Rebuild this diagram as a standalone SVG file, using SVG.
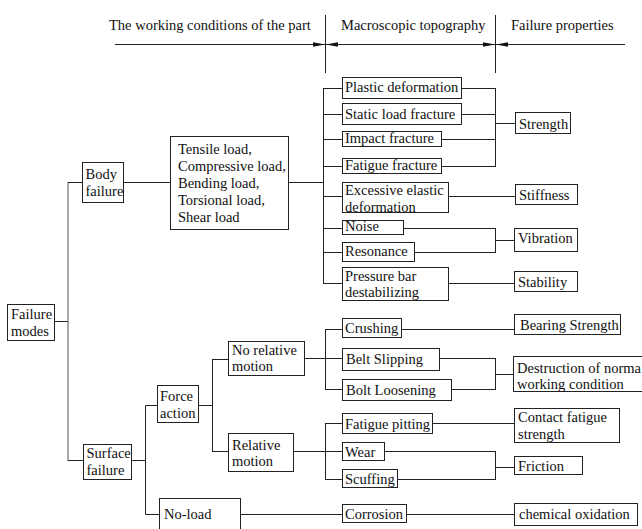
<svg xmlns="http://www.w3.org/2000/svg" width="642" height="529" viewBox="0 0 642 529" font-family="'Liberation Serif', 'DejaVu Serif', serif">
<style>
text{font-family:'Liberation Serif','DejaVu Serif',serif;font-size:14.5px;fill:#111}
.b{fill:#fff;stroke:#222;stroke-width:1}
.c line,.h line{stroke:#222;stroke-width:1}
.c line.g{stroke:#555}
</style>
<defs>
<marker id="ar" viewBox="0 0 12 6" refX="12" refY="3" markerWidth="12" markerHeight="6" markerUnits="userSpaceOnUse" orient="auto">
<path d="M0,0.8 L12,3 L0,5.2 Z" fill="#111"/>
</marker>
</defs>
<g id="header" class="h">
<text x="109" y="30">The working conditions of the part</text>
<text x="341" y="30">Macroscopic topography</text>
<text x="511" y="30">Failure properties</text>
<line x1="115" y1="44.5" x2="625" y2="44.5"/>
<line x1="325.5" y1="15" x2="325.5" y2="73"/>
<line x1="495.5" y1="15" x2="495.5" y2="73"/>
<line x1="305" y1="44.5" x2="325" y2="44.5" marker-end="url(#ar)"/>
<line x1="346" y1="44.5" x2="326" y2="44.5" marker-end="url(#ar)"/>
<line x1="475" y1="44.5" x2="495" y2="44.5" marker-end="url(#ar)"/>
<line x1="516" y1="44.5" x2="496" y2="44.5" marker-end="url(#ar)"/>
</g>
<g id="connectors" class="c">
<line x1="55" y1="321.5" x2="68" y2="321.5"/>
<line class="g" x1="68" y1="182" x2="68" y2="461"/>
<line x1="68" y1="182.5" x2="82" y2="182.5"/>
<line x1="68" y1="460.5" x2="83" y2="460.5"/>
<line x1="124" y1="182.5" x2="170" y2="182.5"/>
<line x1="289" y1="182.5" x2="323.5" y2="182.5"/>
<line x1="323.5" y1="88" x2="323.5" y2="284"/>
<line x1="323.5" y1="88.5" x2="342" y2="88.5"/>
<line x1="323.5" y1="114.5" x2="342" y2="114.5"/>
<line x1="323.5" y1="139.5" x2="342" y2="139.5"/>
<line x1="323.5" y1="166.5" x2="342" y2="166.5"/>
<line x1="323.5" y1="196.5" x2="342" y2="196.5"/>
<line x1="323.5" y1="228.5" x2="342" y2="228.5"/>
<line x1="323.5" y1="252.5" x2="342" y2="252.5"/>
<line x1="323.5" y1="283.5" x2="342" y2="283.5"/>
<line x1="462" y1="88.5" x2="495.5" y2="88.5"/>
<line x1="462" y1="114.5" x2="495.5" y2="114.5"/>
<line x1="442" y1="139.5" x2="495.5" y2="139.5"/>
<line x1="442" y1="166.5" x2="495.5" y2="166.5"/>
<line x1="495.5" y1="88" x2="495.5" y2="167"/>
<line x1="495.5" y1="123.5" x2="515" y2="123.5"/>
<line x1="449" y1="196.5" x2="515" y2="196.5"/>
<line x1="404" y1="228.5" x2="495.5" y2="228.5"/>
<line x1="415" y1="252.5" x2="495.5" y2="252.5"/>
<line x1="495.5" y1="228" x2="495.5" y2="253"/>
<line x1="495.5" y1="240.5" x2="514" y2="240.5"/>
<line x1="449" y1="283.5" x2="514" y2="283.5"/>
<line x1="132" y1="460.5" x2="145.5" y2="460.5"/>
<line x1="145.5" y1="405.5" x2="145.5" y2="514.5"/>
<line x1="145.5" y1="405.5" x2="157" y2="405.5"/>
<line x1="145.5" y1="514.5" x2="159" y2="514.5"/>
<line x1="199" y1="405.5" x2="212.5" y2="405.5"/>
<line x1="212.5" y1="359" x2="212.5" y2="452"/>
<line x1="212.5" y1="359.5" x2="228" y2="359.5"/>
<line x1="212.5" y1="451.5" x2="228" y2="451.5"/>
<line x1="305" y1="358.5" x2="342" y2="358.5"/>
<line x1="325.5" y1="329" x2="325.5" y2="390"/>
<line x1="325.5" y1="329.5" x2="342" y2="329.5"/>
<line x1="325.5" y1="389.5" x2="342" y2="389.5"/>
<line x1="402" y1="329.5" x2="514" y2="329.5"/>
<line x1="440" y1="358.5" x2="495.5" y2="358.5"/>
<line x1="452" y1="389.5" x2="495.5" y2="389.5"/>
<line x1="495.5" y1="358" x2="495.5" y2="390"/>
<line x1="495.5" y1="374.5" x2="513" y2="374.5"/>
<line x1="294" y1="451.5" x2="342" y2="451.5"/>
<line x1="325.5" y1="423" x2="325.5" y2="480"/>
<line x1="325.5" y1="423.5" x2="342" y2="423.5"/>
<line x1="325.5" y1="479.5" x2="342" y2="479.5"/>
<line x1="433" y1="423.5" x2="514" y2="423.5"/>
<line x1="385" y1="451.5" x2="495.5" y2="451.5"/>
<line x1="398" y1="479.5" x2="495.5" y2="479.5"/>
<line x1="495.5" y1="451" x2="495.5" y2="480"/>
<line x1="495.5" y1="467.5" x2="514" y2="467.5"/>
<line x1="241" y1="514.5" x2="342" y2="514.5"/>
<line x1="407" y1="514.5" x2="514" y2="514.5"/>
</g>
<g id="failure_modes"><rect class="b" x="7.5" y="304.5" width="47" height="36"/><text x="11" y="319">Failure</text><text x="11" y="336">modes</text></g>
<g id="body_failure"><rect class="b" x="82.5" y="162.5" width="41" height="40"/><text x="85.5" y="179">Body</text><text x="85.5" y="196">failure</text></g>
<g id="loads"><rect class="b" x="170.5" y="136.5" width="118" height="93"/><text x="178" y="154">Tensile load,</text><text x="178" y="171">Compressive load,</text><text x="178" y="188">Bending load,</text><text x="178" y="205">Torsional load,</text><text x="178" y="221.5">Shear load</text></g>
<g id="plastic"><rect class="b" x="342.5" y="77.5" width="119" height="21"/><text x="345" y="92">Plastic deformation</text></g>
<g id="static"><rect class="b" x="342.5" y="103.5" width="119" height="21"/><text x="345" y="118.5">Static load fracture</text></g>
<g id="impact"><rect class="b" x="342.5" y="131.5" width="99" height="15"/><text x="345" y="142.5">Impact fracture</text></g>
<g id="fatigue_fracture"><rect class="b" x="342.5" y="158.5" width="99" height="15"/><text x="345" y="170">Fatigue fracture</text></g>
<g id="excessive"><rect class="b" x="342.5" y="182.5" width="106" height="30"/><text x="345" y="195">Excessive elastic</text><text x="345" y="211.5">deformation</text></g>
<g id="noise"><rect class="b" x="342.5" y="220.5" width="61" height="14"/><text x="345" y="231">Noise</text></g>
<g id="resonance"><rect class="b" x="342.5" y="242.5" width="72" height="19"/><text x="345" y="256">Resonance</text></g>
<g id="pressure"><rect class="b" x="342.5" y="267.5" width="106" height="33"/><text x="345" y="280.5">Pressure bar</text><text x="345" y="296.5">destabilizing</text></g>
<g id="strength"><rect class="b" x="515.5" y="112.5" width="55" height="21"/><text x="519" y="128.5">Strength</text></g>
<g id="stiffness"><rect class="b" x="515.5" y="184.5" width="62" height="20"/><text x="519" y="199.5">Stiffness</text></g>
<g id="vibration"><rect class="b" x="514.5" y="228.5" width="63" height="23"/><text x="518" y="242.5">Vibration</text></g>
<g id="stability"><rect class="b" x="514.5" y="271.5" width="63" height="20"/><text x="518" y="286.5">Stability</text></g>
<g id="surface_failure"><rect class="b" x="83.5" y="444.5" width="48" height="35"/><text x="86.5" y="458">Surface</text><text x="86.5" y="475">failure</text></g>
<g id="force_action"><rect class="b" x="157.5" y="385.5" width="41" height="37"/><text x="160" y="401">Force</text><text x="160" y="417.5">action</text></g>
<g id="no_relative"><rect class="b" x="228.5" y="341.5" width="76" height="34"/><text x="232" y="355">No relative</text><text x="232" y="371">motion</text></g>
<g id="relative"><rect class="b" x="228.5" y="433.5" width="65" height="38"/><text x="232" y="449.5">Relative</text><text x="232" y="466">motion</text></g>
<g id="no_load"><rect class="b" x="159.5" y="498.5" width="81" height="35"/><text x="164" y="518.5">No-load</text></g>
<g id="crushing"><rect class="b" x="342.5" y="318.5" width="59" height="19"/><text x="345" y="332.5">Crushing</text></g>
<g id="belt_slipping"><rect class="b" x="342.5" y="348.5" width="97" height="22"/><text x="346" y="363.5">Belt Slipping</text></g>
<g id="bolt_loosening"><rect class="b" x="342.5" y="379.5" width="109" height="21"/><text x="346" y="394.5">Bolt Loosening</text></g>
<g id="bearing"><rect class="b" x="514.5" y="314.5" width="106" height="20"/><text x="520" y="329.5">Bearing Strength</text></g>
<g id="destruction"><rect class="b" x="513.5" y="356.5" width="140" height="35"/><text x="517" y="372.5">Destruction of norma</text><text x="517" y="388.5">working condition</text></g>
<g id="fatigue_pitting"><rect class="b" x="342.5" y="413.5" width="90" height="20"/><text x="345" y="428.5">Fatigue pitting</text></g>
<g id="contact"><rect class="b" x="514.5" y="408.5" width="105" height="34"/><text x="518" y="421.5">Contact fatigue</text><text x="518" y="438.5">strength</text></g>
<g id="wear"><rect class="b" x="342.5" y="442.5" width="42" height="18"/><text x="345" y="456.5">Wear</text></g>
<g id="scuffing"><rect class="b" x="342.5" y="469.5" width="55" height="18"/><text x="345" y="484">Scuffing</text></g>
<g id="friction"><rect class="b" x="514.5" y="456.5" width="68" height="18"/><text x="518" y="470.5">Friction</text></g>
<g id="corrosion"><rect class="b" x="342.5" y="504.5" width="64" height="18"/><text x="345" y="519">Corrosion</text></g>
<g id="chemical"><rect class="b" x="514.5" y="503.5" width="123" height="22"/><text x="519" y="519">chemical oxidation</text></g>
</svg>
